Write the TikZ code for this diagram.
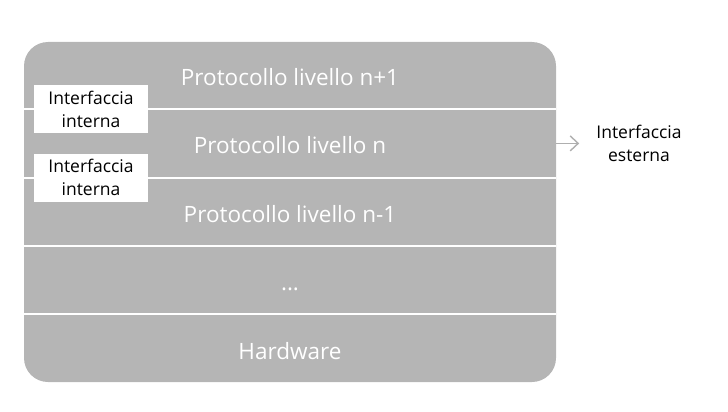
\documentclass[tikz,border=0pt]{standalone}
\usepackage{fontspec}
\setmainfont{Open Sans}
\usetikzlibrary{positioning,arrows.meta}
\definecolor{layergray}{RGB}{181,181,181}
\definecolor{arrowgray}{RGB}{175,175,175}

\begin{document}
\begin{tikzpicture}[x=1pt,y=-1pt,
  layer/.style={minimum width=532pt,minimum height=68pt,inner sep=0pt,
    text height=21pt,text depth=0pt,
    text=white,font=\fontsize{22.5}{26}\selectfont},
  iface/.style={fill=white,minimum width=114pt,minimum height=48pt,inner sep=0pt,
    align=center,font=\fontsize{17.5}{22.5}\selectfont},
  extlabel/.style={inner sep=0pt,align=center,font=\fontsize{17.5}{23}\selectfont},
  divider/.style={white,line width=2pt},
  arr/.style={arrowgray,line width=1.4pt,-{Straight Barb[length=8pt,width=15pt]}}]
\useasboundingbox (0,0) rectangle (728,412);
\fill[layergray,rounded corners=24pt] (24,42) rectangle (556,382);
% layers
\node[layer] (top) at (290,75) {Protocollo livello n+1};
\node[layer,below=0pt of top] (mid) {Protocollo livello n};
\node[layer,below=0pt of mid] (low) {Protocollo livello n-1};
\node[layer,below=0pt of low] (dots) {...};
\node[layer,below=0pt of dots] (hw) {Hardware};
\draw[divider] (top.south west) -- (top.south east);
\draw[divider] (mid.south west) -- (mid.south east);
\draw[divider] (low.south west) -- (low.south east);
\draw[divider] (dots.south west) -- (dots.south east);
% interfaces
\node[iface,right=10pt of top.south west] (ifup) {Interfaccia\\interna};
\node[iface,right=10pt of mid.south west] (ifdown) {Interfaccia\\interna};
\node[extlabel,right=40pt of mid] (ext) {Interfaccia\\esterna};
\draw[arr,shorten >=17pt] (mid.east) -- (ext.west);
\end{tikzpicture}
\end{document}
